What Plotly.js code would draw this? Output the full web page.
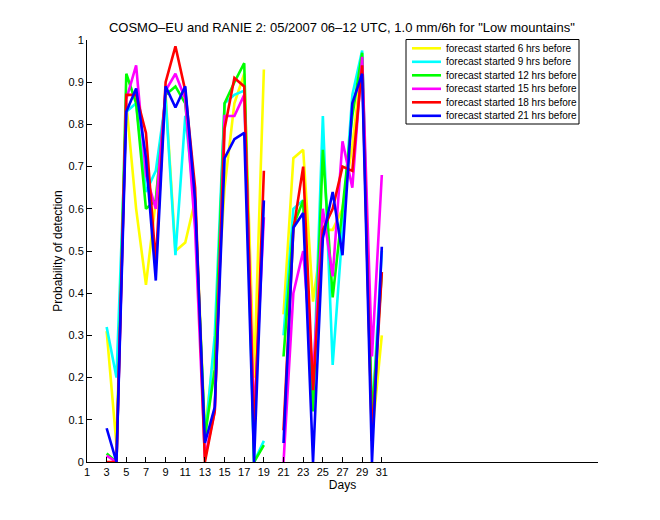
<!DOCTYPE html>
<html>
<head>
<meta charset="utf-8">
<script src="https://cdn.plot.ly/plotly-3.0.1.min.js"></script>
<style>html,body{margin:0;padding:0;background:#fff;}</style>
</head>
<body>
<div id="chart" style="width:660px;height:520px;"></div>
<script>
const days = [3,4,5,6,7,8,9,10,11,12,13,14,15,16,17,18,19,20,21,22,23,24,25,26,27,28,29,30,31];
const seriesNames = [
  "forecast started 6 hrs before",
  "forecast started 9 hrs before",
  "forecast started 12 hrs before",
  "forecast started 15 hrs before",
  "forecast started 18 hrs before",
  "forecast started 21 hrs before"
];
const pod06 = [0.31,0.04,0.85,0.60,0.42,0.62,0.87,0.50,0.52,0.62,0.07,0.28,0.65,0.85,0.92,0.20,0.93,null,0.35,0.72,0.74,0.38,0.55,0.55,0.60,0.75,0.95,0.06,0.30];
const pod09 = [0.32,0.20,0.83,0.85,0.64,0.69,0.86,0.49,0.82,0.60,0.05,0.30,0.85,0.87,0.88,0.00,0.05,null,0.30,0.60,0.62,0.15,0.82,0.23,0.55,0.87,0.975,0.10,0.50];
const pod12 = [0.02,0.00,0.92,0.85,0.60,0.62,0.87,0.89,0.85,0.60,0.06,0.22,0.85,0.90,0.945,0.00,0.04,null,0.25,0.56,0.62,0.12,0.74,0.39,0.60,0.82,0.97,0.10,0.45];
const pod15 = [0.015,0.00,0.86,0.94,0.68,0.60,0.88,0.92,0.86,0.55,0.01,0.12,0.82,0.82,0.87,0.10,0.58,null,0.00,0.40,0.50,0.20,0.60,0.44,0.76,0.65,0.96,0.25,0.68];
const pod18 = [0.00,0.00,0.87,0.87,0.78,0.47,0.90,0.985,0.88,0.65,0.00,0.12,0.79,0.91,0.89,0.05,0.69,null,0.075,0.55,0.70,0.17,0.55,0.60,0.70,0.69,0.94,0.05,0.45];
const pod21 = [0.08,0.00,0.83,0.885,0.72,0.43,0.89,0.84,0.89,0.62,0.045,0.13,0.72,0.765,0.78,0.00,0.62,null,0.045,0.555,0.59,0.00,0.53,0.64,0.49,0.85,0.92,0.00,0.51];
const xTicks = [1,3,5,7,9,11,13,15,17,19,21,23,25,27,29,31];
const yTicks = [0,0.1,0.2,0.3,0.4,0.5,0.6,0.7,0.8,0.9,1];
const yTickText = ["0","0.1","0.2","0.3","0.4","0.5","0.6","0.7","0.8","0.9","1"];

const allSeries = [pod06,pod09,pod12,pod15,pod18,pod21];
const colors = ["#ffff00","#00ffff","#00ff00","#ff00ff","#ff0000","#0000ff"];

const traces = allSeries.map((s,i)=>({
  x: days, y: s, type: "scatter", mode: "lines",
  name: seriesNames[i],
  line: {color: colors[i], width: 2.6},
  connectgaps: false,
  showlegend: false
}));

// plot area in pixels: x 87..598, y 40..462
const L = 87, R = 598, T = 40, B = 462;
const px = v => (v - L) / (R - L);
const py = v => (B - v) / (B - T);

const shapes = [{
  type: "rect", xref: "paper", yref: "paper",
  x0: px(406), x1: px(579), y0: py(124), y1: py(39.5),
  line: {color: "#000", width: 1}, fillcolor: "#fff", layer: "above"
}];
const annotations = [];
const rowY = [48.3, 61.8, 75.3, 88.8, 102.3, 115.8];
seriesNames.forEach((n, i) => {
  shapes.push({
    type: "line", xref: "paper", yref: "paper",
    x0: px(412), x1: px(441), y0: py(rowY[i]), y1: py(rowY[i]),
    line: {color: colors[i], width: 2.6}, layer: "above"
  });
  annotations.push({
    xref: "paper", yref: "paper", x: px(444), y: py(rowY[i]),
    xanchor: "left", yanchor: "middle", showarrow: false,
    text: n, font: {size: 10, color: "#000"}
  });
});

const layout = {
  width: 660, height: 520,
  margin: {l: L, r: 660 - R, t: T, b: 520 - B},
  paper_bgcolor: "#fff", plot_bgcolor: "#fff",
  font: {family: "Liberation Sans, Arial, sans-serif", size: 11, color: "#000"},
  title: {text: 'COSMO\u2013EU and RANIE 2: 05/2007 06\u201312 UTC, 1.0 mm/6h for "Low mountains"',
          font: {size: 13, color: "#000"}, x: 0.518, xanchor: "center", y: 0.948, yanchor: "middle"},
  xaxis: {
    range: [1, 53], tickvals: xTicks, ticktext: xTicks.map(String),
    ticks: "inside", ticklen: 5, tickcolor: "#000", showline: true, linecolor: "#000", linewidth: 1,
    showgrid: false, zeroline: false, mirror: false,
    title: {text: "Days", font: {size: 12}, standoff: 3},
    tickfont: {size: 11}
  },
  yaxis: {
    range: [0, 1], tickvals: yTicks, ticktext: yTickText,
    ticks: "inside", ticklen: 5, tickcolor: "#000", showline: true, linecolor: "#000", linewidth: 1,
    showgrid: false, zeroline: false, mirror: false,
    title: {text: "Probability of detection", font: {size: 12}, standoff: 3},
    tickfont: {size: 11}
  },
  shapes: shapes,
  annotations: annotations,
  showlegend: false
};

Plotly.newPlot("chart", traces, layout, {displayModeBar: false, staticPlot: true});
</script>
</body>
</html>
